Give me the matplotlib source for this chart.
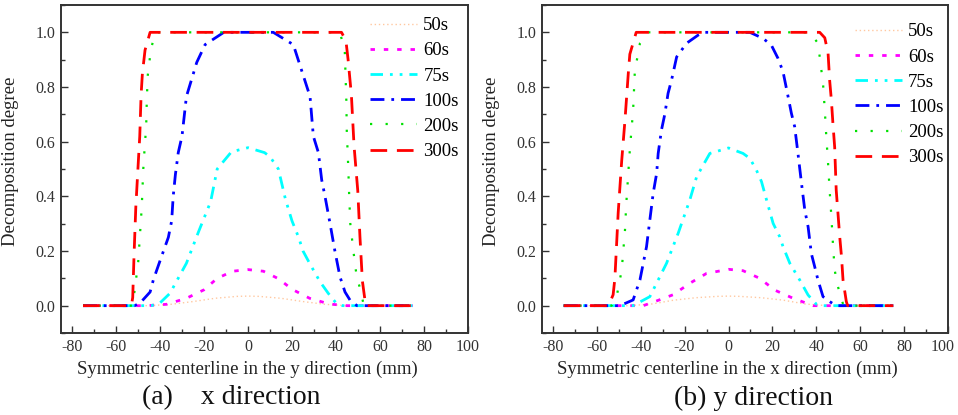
import matplotlib
matplotlib.use("Agg")
import matplotlib.pyplot as plt
from matplotlib.ticker import MultipleLocator, FuncFormatter

plt.rcParams['font.family'] = ['Liberation Serif', 'DejaVu Serif']
plt.rcParams['axes.unicode_minus'] = False

labels = ["50s", "60s", "75s", "100s", "200s", "300s"]

# (a) x direction
xa_50 = [-75, -45, -35, -25, -15, -5, 0, 5, 15, 25, 35, 45, 75]
ya_50 = [0, 0, 0.005, 0.015, 0.027, 0.034, 0.035, 0.034, 0.027, 0.015, 0.005, 0, 0]
xa_60 = [-75, -46, -37, -28, -20, -14, -7, 0, 7, 14, 20, 28, 37, 45, 75]
ya_60 = [0, 0, 0.005, 0.027, 0.058, 0.1, 0.126, 0.132, 0.126, 0.098, 0.06, 0.027, 0.006, 0, 0]
xa_75 = [-75, -44, -40, -35.5, -28, -22.5, -17, -14, -7.5, 0, 7.5, 10, 13.8, 17, 20, 23, 25, 28, 32.7, 36.5, 40, 43, 75]
ya_75 = [0, 0, 0.01, 0.045, 0.155, 0.27, 0.38, 0.5, 0.563, 0.578, 0.56, 0.545, 0.5, 0.39, 0.31, 0.25, 0.2, 0.155, 0.088, 0.045, 0.01, 0, 0]
xa_100 = [-75, -51.5, -49, -44.5, -43, -39.3, -36.2, -34.7, -34, -33, -31.7, -30, -28, -23.3, -19.5, -11, 0,
          11.5, 20.6, 28.2, 29.7, 32, 33.5, 35, 37.3, 39.5, 41.8, 44.1, 46.4, 49.5, 75]
ya_100 = [0, 0, 0.01, 0.05, 0.095, 0.18, 0.25, 0.31, 0.4, 0.48, 0.56, 0.62, 0.765, 0.89, 0.955, 1, 1,
          1, 0.955, 0.765, 0.62, 0.56, 0.46, 0.4, 0.3, 0.2, 0.106, 0.05, 0.02, 0, 0]
xa_200 = [-75, -52.5, -51.4, -49.9, -49.1, -48.3, -47.6, -46.8, -46.3, -46, -45.6, -44.1, -42, 41.8, 44, 44.7,
          44.9, 45.6, 46, 46.5, 47.9, 49.4, 50.9, 52.4, 53, 75]
ya_200 = [0, 0, 0.064, 0.16, 0.26, 0.36, 0.5, 0.6, 0.65, 0.75, 0.84, 0.94, 1, 1, 0.93, 0.75,
          0.64, 0.5, 0.4, 0.3, 0.2, 0.106, 0.064, 0.01, 0, 0]
xa_300 = [-75, -53, -52.4, -51.8, -51, -49.9, -49.2, -48.6, -48, -46.8, -44.5, 42.5, 44.5, 45.5, 47, 48.2,
          49.9, 50.9, 52, 53.5, 75]
ya_300 = [0, 0, 0.03, 0.185, 0.36, 0.52, 0.62, 0.77, 0.85, 0.935, 1, 1, 0.97, 0.9, 0.77, 0.585,
          0.42, 0.25, 0.09, 0, 0]

# (b) y direction
xb_50 = [-75, -45, -35, -25, -15, -5, 0, 5, 15, 25, 35, 45, 75]
yb_50 = [0, 0, 0.006, 0.02, 0.029, 0.034, 0.035, 0.034, 0.029, 0.02, 0.006, 0, 0]
xb_60 = [-75, -38.8, -33.5, -25.2, -17.6, -10, 0, 6.6, 14.2, 21, 29.4, 38.5, 75]
yb_60 = [0, 0, 0.015, 0.04, 0.082, 0.118, 0.133, 0.128, 0.1, 0.057, 0.027, 0, 0]
xb_75 = [-75, -43.4, -35.8, -30.5, -28.2, -22.9, -17.6, -14.5, -8.5, 0, 6.6, 9.7, 12.7, 15, 17.3, 20.3,
         23.3, 24.8, 27.9, 32.4, 36.2, 40, 42, 75]
yb_75 = [0, 0, 0.033, 0.118, 0.155, 0.265, 0.387, 0.472, 0.557, 0.577, 0.557, 0.539, 0.496, 0.454, 0.387, 0.301,
         0.252, 0.216, 0.155, 0.094, 0.039, 0.005, 0, 0]
xb_100 = [-75, -49.4, -43.4, -40.3, -37.3, -35.8, -34.3, -32.7, -32, -30.5, -29, -27.5, -25.9, -23.6, -19.1,
          -13.8, -11.3, 9.7, 15.7, 19.5, 22.5, 24.8, 27.1, 28.6, 30.1, 31.6, 33.2, 34.7, 36.2, 37.7, 39.2,
          40.7, 43, 46, 49, 75]
yb_100 = [0, 0, 0.021, 0.094, 0.216, 0.313, 0.41, 0.484, 0.557, 0.643, 0.7, 0.777, 0.826, 0.91, 0.96,
          0.99, 1, 1, 0.978, 0.953, 0.905, 0.856, 0.765, 0.704, 0.655, 0.557, 0.448, 0.35, 0.289, 0.19, 0.143,
          0.094, 0.033, 0.015, 0, 0]
xb_200 = [-75, -53.2, -50.9, -48.6, -47.1, -46.5, -44.9, -43.4, -42.6, -41.1, -40.3, -36.5, 37, 40.7, 41.5,
          43, 43.8, 44.5, 45.3, 46, 46.8, 47.5, 48.3, 49.8, 51.4, 52.5, 75]
yb_200 = [0, 0, 0.033, 0.13, 0.277, 0.375, 0.57, 0.716, 0.862, 0.923, 0.96, 1, 1, 0.96, 0.91,
          0.813, 0.716, 0.618, 0.52, 0.423, 0.326, 0.228, 0.13, 0.07, 0.02, 0, 0]
xb_300 = [-75, -54.6, -52.5, -51.7, -50.2, -48.6, -47.1, -45.6, -44.9, -42, 41.5, 43.8, 45.3, 46, 46.8,
          47.5, 48.3, 49, 49.8, 50.6, 51.4, 52.1, 53.6, 54.2, 75]
yb_300 = [0, 0, 0.04, 0.1, 0.34, 0.53, 0.68, 0.85, 0.92, 1, 1, 0.98, 0.923, 0.826, 0.752,
          0.667, 0.58, 0.423, 0.338, 0.252, 0.18, 0.094, 0.015, 0, 0]

colors = ["#FFC8A0", "#FF00FF", "#00FFFF", "#0000FF", "#00E000", "#FF0000"]
widths = [1.0, 2.0, 2.0, 2.0, 1.6, 2.0]
dashes = [(0, (1, 2)), (0, (1.6, 3.2)), (0, (4.5, 2.5, 1, 2.5, 1, 2.5)),
          (0, (5, 2.5, 1, 2.5)), (0, (1, 6)), (0, (6, 3.5))]

fig = plt.figure(figsize=(9.58, 4.15), dpi=100)
ax1 = fig.add_axes([61 / 958, 1 - 333 / 415, 407 / 958, 328 / 415])
ax2 = fig.add_axes([541.7 / 958, 1 - 333 / 415, 406.6 / 958, 328 / 415])

panels = [
    (ax1, [(xa_50, ya_50), (xa_60, ya_60), (xa_75, ya_75), (xa_100, ya_100), (xa_200, ya_200), (xa_300, ya_300)],
     "Symmetric centerline in the y direction (mm)", (0.759, 0.963)),
    (ax2, [(xb_50, yb_50), (xb_60, yb_60), (xb_75, yb_75), (xb_100, yb_100), (xb_200, yb_200), (xb_300, yb_300)],
     "Symmetric centerline in the x direction (mm)", (0.770, 0.944)),
]

for ax, series, xlab, legpos in panels:
    for (x, y), lab, c, w, d in zip(series, labels, colors, widths, dashes):
        ax.plot(x, y, color=c, lw=w, linestyle=d, label=lab)
    ax.set_xlim(-85, 100)
    ax.set_ylim(-0.1, 1.1)
    ax.xaxis.set_major_locator(MultipleLocator(20))
    ax.xaxis.set_minor_locator(MultipleLocator(10))
    ax.yaxis.set_major_locator(MultipleLocator(0.2))
    ax.yaxis.set_minor_locator(MultipleLocator(0.1))
    ax.yaxis.set_major_formatter(matplotlib.ticker.FormatStrFormatter('%.1f'))
    ax.tick_params(which='both', direction='in', top=False, right=False, labelsize=11.5,
                   colors='#333333', width=1)
    ax.tick_params(which='major', length=5, pad=4)
    ax.tick_params(which='minor', length=3)
    for s in ax.spines.values():
        s.set_color('#333333')
        s.set_linewidth(1.4)
    ax.set_xlabel(xlab, fontsize=13.5, color='#222222')
    ax.xaxis.set_label_coords(0.457, -0.083)
    ax.set_ylabel("Decomposition degree", fontsize=13.5, color='#222222')
    ax.yaxis.set_label_coords(-0.103, 0.524)
    ax.legend(loc='upper left', bbox_to_anchor=legpos, frameon=False, fontsize=13.5,
              handlelength=2.5, handletextpad=0.35, labelspacing=0.43, borderpad=0,
              borderaxespad=0)

# the right panel's "100" sits at the figure edge: draw it nudged inward
ax2.xaxis.set_major_formatter(FuncFormatter(lambda v, p: "" if v >= 100 else "%d" % v))
ax2.annotate("100", xy=(100, 0), xycoords=("data", "axes fraction"), xytext=(-4, -4),
             textcoords="offset points", ha="center", va="top", fontsize=11.5, color="#333333")

fig.text(231 / 958, 1 - 398 / 415, "(a)    x direction", fontsize=20, ha='center', va='center', color='#111111')
fig.text(753 / 958, 1 - 398 / 415, "(b) y direction", fontsize=20, ha='center', va='center', color='#111111')

fig.savefig("out.png", dpi=100)
